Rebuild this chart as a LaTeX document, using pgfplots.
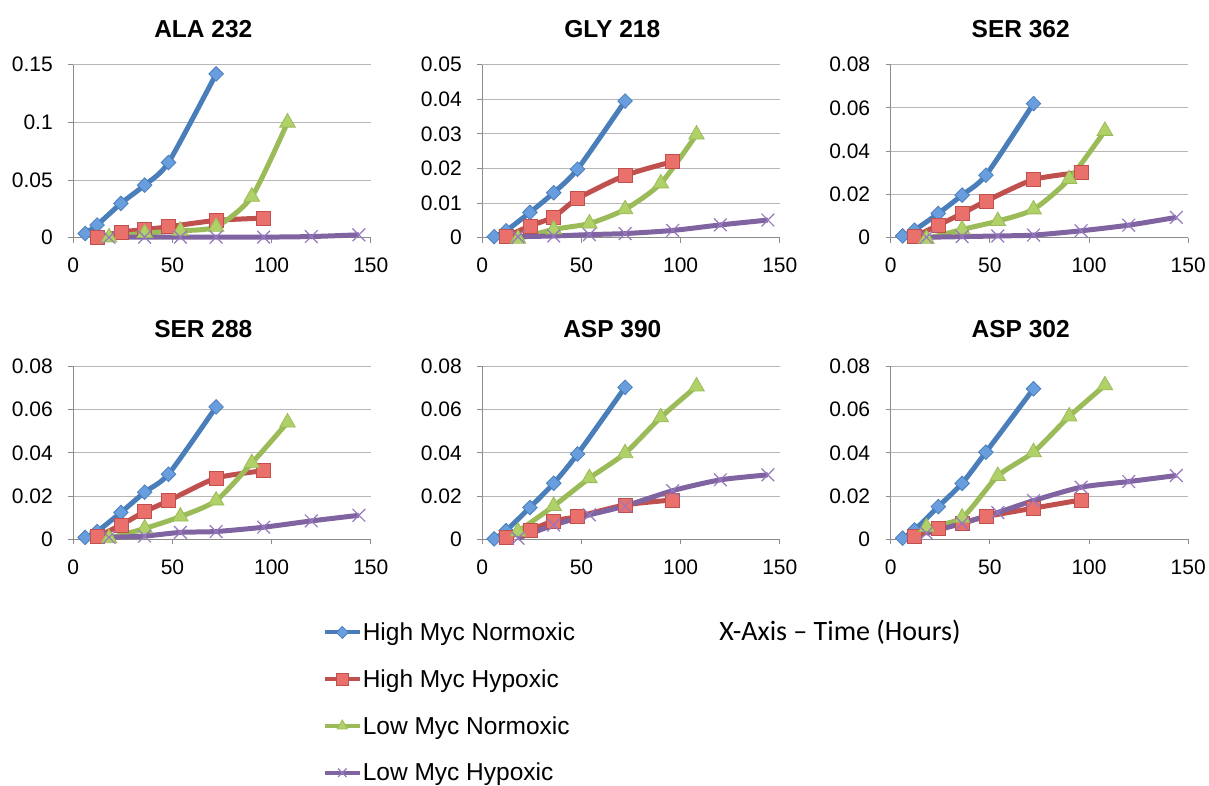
\documentclass[border=0pt]{standalone}
\usepackage{fontspec}
\setmainfont{Liberation Sans}
\newfontfamily\calibri{Carlito}
\usepackage{pgfplots}
\pgfplotsset{compat=1.18}

\definecolor{hmnline}{RGB}{74,126,187}
\definecolor{hmnfill}{RGB}{105,158,222}
\definecolor{hmhline}{RGB}{192,80,77}
\definecolor{hmhfill}{RGB}{234,112,108}
\definecolor{lmnline}{RGB}{155,187,89}
\definecolor{lmnfill}{RGB}{176,208,104}
\definecolor{lmhline}{RGB}{128,100,162}
\definecolor{lmhmark}{RGB}{150,120,190}
\definecolor{axisgray}{RGB}{140,140,140}
\definecolor{gridgray}{RGB}{182,182,182}

\pgfplotsset{
  panel/.style={
    scale only axis, width=297.5pt, height=173pt,
    xmin=0, xmax=150, ymin=0,
    clip=false,
    axis lines=left,
    axis line style={-, draw=axisgray, line width=1pt},
    xtick={0,50,100,150}, xticklabels={0,50,100,150},
    scaled y ticks=false, scaled x ticks=false,
    ymajorgrids, grid style={gridgray, line width=1pt},
    tick align=outside, major tick length=5pt,
    tick style={axisgray, line width=1pt},
    ticklabel style={font=\fontsize{21}{25}\selectfont},
    xticklabel style={yshift=-12pt},
    yticklabel style={xshift=-12pt},
    title style={font=\fontsize{24.5}{29}\selectfont\bfseries, anchor=center},
    legend image code/.code={\draw[mark repeat=2,mark phase=2] plot coordinates {(0pt,0pt) (17.5pt,0pt) (35pt,0pt)};},
  },
  toprow/.style={title style={at={(axis description cs:0.437,1.17)}}},
  botrow/.style={title style={at={(axis description cs:0.437,1.18)}}},
  y15/.style={ymax=0.15, ytick={0,0.05,0.1,0.15}, yticklabels={0,0.05,0.1,0.15}},
  y05/.style={ymax=0.05, ytick={0,0.01,0.02,0.03,0.04,0.05}, yticklabels={0,0.01,0.02,0.03,0.04,0.05}},
  y08/.style={ymax=0.08, ytick={0,0.02,0.04,0.06,0.08}, yticklabels={0,0.02,0.04,0.06,0.08}},
  hmn/.style={hmnline, line width=5pt, smooth, tension=0.4, mark=diamond*, mark size=7.3pt,
    mark options={xscale=1.33, fill=hmnfill, draw=hmnline, line width=0.8pt}},
  hmh/.style={hmhline, line width=5pt, smooth, tension=0.4, mark=square*, mark size=7pt,
    mark options={fill=hmhfill, draw=hmhline, line width=0.8pt}},
  lmn/.style={lmnline, line width=5pt, smooth, tension=0.4, mark=triangle*, mark size=9pt,
    mark options={fill=lmnfill, draw=lmnline, line width=0.8pt}},
  lmh/.style={lmhline, line width=5pt, smooth, tension=0.4, mark=x, mark size=9pt,
    mark options={draw=lmhmark, line width=1.2pt}},
}

\begin{document}
\begin{tikzpicture}
\useasboundingbox (0pt,0pt) rectangle (1209pt,-786pt);

% ---- top row ----
\begin{axis}[panel, toprow, y15, title={ALA 232}, at={(73.3pt,-237.7pt)}, anchor=south west,
  legend style={at={(axis description cs:0.838,-2.225)}, anchor=north west, draw=none, fill=none,
    inner sep=0pt, row sep=27.5pt, font=\fontsize{24.5}{29}\selectfont,
    nodes={inner xsep=1pt, inner ysep=0pt}},
  legend cell align=left,
  legend image post style={mark size=6pt, line width=4pt}]
\addplot[hmn] coordinates {(6,0.0037)(12,0.011)(24,0.0297)(36,0.0456)(48,0.0652)(72,0.142)};
\addplot[hmh] coordinates {(12,0.0005)(24,0.005)(36,0.007)(48,0.0095)(72,0.015)(96,0.017)};
\addplot[lmn] coordinates {(18,0.0003)(36,0.004)(54,0.006)(72,0.0095)(90,0.0355)(108,0.0998)};
\addplot[lmh] coordinates {(18,0.0003)(36,0.0005)(54,0.0005)(72,0.0005)(96,0.0005)(120,0.001)(144,0.0025)};
\legend{High Myc Normoxic, High Myc Hypoxic, Low Myc Normoxic, Low Myc Hypoxic}
\end{axis}

\begin{axis}[panel, toprow, y05, title={GLY 218}, at={(482.3pt,-237.7pt)}, anchor=south west]
\addplot[hmn] coordinates {(6,0.0003)(12,0.002)(24,0.0073)(36,0.013)(48,0.0198)(72,0.0395)};
\addplot[hmh] coordinates {(12,0.0003)(24,0.0034)(36,0.006)(48,0.0113)(72,0.018)(96,0.022)};
\addplot[lmn] coordinates {(18,-0.0003)(36,0.0024)(54,0.0041)(72,0.0082)(90,0.0157)(108,0.0298)};
\addplot[lmh] coordinates {(18,0.0003)(36,0.0005)(54,0.0009)(72,0.0012)(96,0.0021)(120,0.0037)(144,0.0051)};
\end{axis}

\begin{axis}[panel, toprow, y08, title={SER 362}, at={(890.7pt,-237.7pt)}, anchor=south west]
\addplot[hmn] coordinates {(6,0.0008)(12,0.0035)(24,0.0112)(36,0.0197)(48,0.0289)(72,0.062)};
\addplot[hmh] coordinates {(12,0.0005)(24,0.0058)(36,0.0112)(48,0.0169)(72,0.0269)(96,0.0302)};
\addplot[lmn] coordinates {(18,-0.0005)(36,0.0038)(54,0.0077)(72,0.0131)(90,0.0271)(108,0.0494)};
\addplot[lmh] coordinates {(18,0.0002)(36,0.0005)(54,0.0008)(72,0.0012)(96,0.0032)(120,0.0058)(144,0.0094)};
\end{axis}

% ---- bottom row ----
\begin{axis}[panel, botrow, y08, title={SER 288}, at={(73.3pt,-539.3pt)}, anchor=south west]
\addplot[hmn] coordinates {(6,0.0009)(12,0.0036)(24,0.0124)(36,0.0218)(48,0.0301)(72,0.0612)};
\addplot[hmh] coordinates {(12,0.0012)(24,0.0066)(36,0.0128)(48,0.0178)(72,0.0283)(96,0.0317)};
\addplot[lmn] coordinates {(18,0.0005)(36,0.005)(54,0.0105)(72,0.0179)(90,0.0352)(108,0.054)};
\addplot[lmh] coordinates {(18,0.0009)(36,0.0015)(54,0.0032)(72,0.0036)(96,0.0056)(120,0.0085)(144,0.0111)};
\end{axis}

\begin{axis}[panel, botrow, y08, title={ASP 390}, at={(482.3pt,-539.3pt)}, anchor=south west]
\addplot[hmn] coordinates {(6,0.0002)(12,0.004)(24,0.0147)(36,0.0259)(48,0.0394)(72,0.0703)};
\addplot[hmh] coordinates {(12,0.0009)(24,0.0043)(36,0.0085)(48,0.0105)(72,0.0159)(96,0.0182)};
\addplot[lmn] coordinates {(18,0.0036)(36,0.0154)(54,0.0283)(72,0.0398)(90,0.0564)(108,0.0707)};
\addplot[lmh] coordinates {(18,0.0005)(36,0.0066)(54,0.0113)(72,0.0154)(96,0.0225)(120,0.0275)(144,0.0298)};
\end{axis}

\begin{axis}[panel, botrow, y08, title={ASP 302}, at={(890.7pt,-539.3pt)}, anchor=south west]
\addplot[hmn] coordinates {(6,0.0005)(12,0.0043)(24,0.0151)(36,0.0259)(48,0.0403)(72,0.0696)};
\addplot[hmh] coordinates {(12,0.0012)(24,0.0051)(36,0.0074)(48,0.0105)(72,0.0144)(96,0.0182)};
\addplot[lmn] coordinates {(18,0.0056)(36,0.01)(54,0.0293)(72,0.0403)(90,0.0568)(108,0.0712)};
\addplot[lmh] coordinates {(18,0.0028)(36,0.0074)(54,0.0124)(72,0.0179)(96,0.0241)(120,0.0267)(144,0.0295)};
\end{axis}

\node[font=\calibri\fontsize{28}{33}\selectfont] at (840pt,-632pt) {X-Axis – Time (Hours)};
\end{tikzpicture}
\end{document}
